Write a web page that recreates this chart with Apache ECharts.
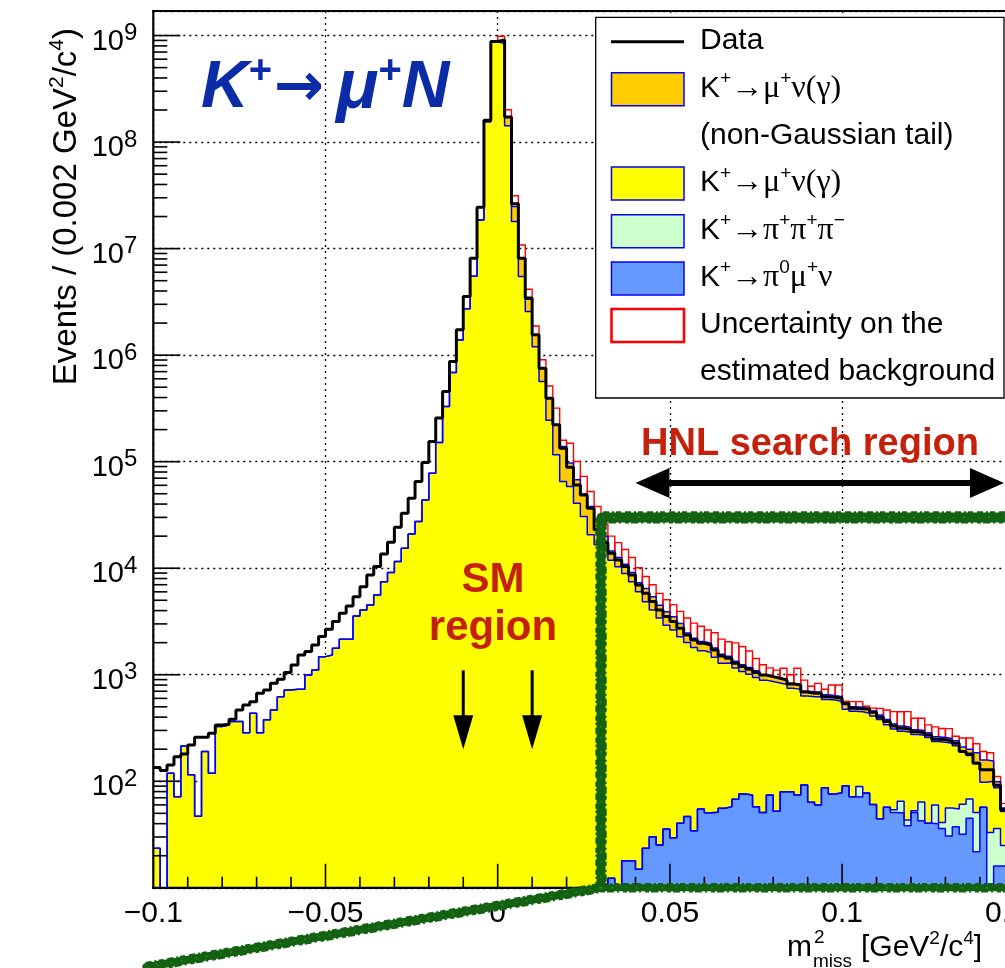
<!DOCTYPE html>
<html>
<head>
<meta charset="utf-8">
<script src="https://cdn.jsdelivr.net/npm/echarts@6.0.0/dist/echarts.min.js"></script>
<style>
html,body{margin:0;padding:0;background:#ffffff;}
#chart{width:1005px;height:968px;}
</style>
</head>
<body>
<div id="chart"></div>
<script>
// ---------- binning (categories): 0.002-wide bins in m2_miss starting at -0.1
const binStart = -0.1;
const binWidth = 0.002;

// ---------- series values, one entry per bin (events / 0.002 GeV^2/c^4)
const dataVals = [
 135,126,142,170,180,219,259,259,282,338,
 343,382,467,520,559,670,720,832,907,1047,
 1237,1535,1650,1905,2280,2675,3155,3780,4430,5410,
 6715,8650,10350,13600,17500,24300,32800,45400,65000,98100,
 1.55e5,2.57e5,4.56e5,8.7e5,1.73e6,3.55e6,8.1e6,2.45e7,1.6e8,8.8e8,
 9.1e8,1.72e8,2.63e7,8.1e6,3.43e6,1.55e6,7.55e5,3.94e5,2.22e5,1.34e5,
 88700,60500,48700,36600,22900,17300,13830,11970,10350,8650,
 6970,5820,4860,4055,3513,3155,2730,2364,2122,1976,
 1905,1710,1502,1430,1283,1192,1127,1047,995,960,
 927,894,820,802,690,670,670,622,615,601,
 540,484,480,477,444,399,363,331,314,307,
 292,286,272,248,246,238,227,190,180,148,
 128,128,92,54];

// K+ -> mu+ nu(gamma), Gaussian core (yellow)
const muNuVals = [
 23.5,0,119,71.6,214,115,47,190,119,326,
 338,363,363,286,435,286,377,467,622,719,
 730,731,995,1109,1479,1535,1774,2155,2155,3565,
 4055,4520,5610,7480,9100,11530,15400,21000,27400,43700,
 78000,1.51e5,3.29e5,6.87e5,1.39e6,2.72e6,5.5e6,1.86e7,1.55e8,8.75e8,
 8.4e8,1.42e8,1.8e7,5.47e6,2.57e6,1.2e6,5.65e5,2.45e5,1.16e5,6.5e4,
 5.84e4,4.08e4,3.05e4,2.06e4,1.66e4,1.5e4,11888,10300,8882,7432,
 5985,4826,4020,3375,2884,2600,2230,1963,1766,1625,
 1569,1409,1224,1232,1092,994,936,882,839,791,
 783,730,665,656,538,557,560,498,504,482,
 384,383,360,358,350,335,283,256,230,245,
 222,206,217,176,191,171,160,127,107,99,
 41,67,51,27];

// K+ -> mu+ nu(gamma), non-Gaussian tail (orange)
const muNuTailVals = [
 0,0,0,0,0,0,0,0,0,0,
 0,0,0,0,0,0,0,0,0,0,
 0,0,0,0,0,0,0,0,0,0,
 0,0,0,0,0,0,0,0,0,0,
 0,0,0,0,0,0,0,0,0,0,
 7e7,2.9e7,6.8e6,2.68e6,7.8e5,3.5e5,1.9e5,1.49e5,1.06e5,7.4e4,
 3.86e4,2.67e4,1.93e4,1.73e4,1.18e4,5000,2600,2300,2000,1650,
 1300,1600,1350,1100,980,870,760,450,400,370,
 360,320,280,200,180,170,160,150,100,95,
 90,90,85,80,70,70,70,65,60,60,
 50,45,45,45,45,40,40,35,35,32,
 30,30,28,26,26,25,25,22,25,35,
 60,55,12,4];

// K+ -> pi+ pi+ pi- (light green)
const pi3Vals = [
 0,0,0,0,0,0,0,0,0,0,
 0,0,0,0,0,0,0,0,0,0,
 0,0,0,0,0,0,0,0,0,0,
 0,0,0,0,0,0,0,0,0,0,
 0,0,0,0,0,0,0,0,0,0,
 0,0,0,0,0,0,0,0,0,0,
 0,0,0,0,0,0,0,0,0,0,
 0,0,0,0,0,0,0,0,0,0,
 0,0,0,0,0,0,0,0,0,0,
 0,0,0,0,0,0,0,0,0,0,
 0,0,18.5,0,0,0,0,3,14.5,5,
 2,21.4,0,20,5,25.4,17.5,29,23,29.2,
 0,24,20,9];

// K+ -> pi0 mu+ nu (blue)
const pi0MuNuVals = [
 0,0,0,0,0,0,0,0,0,0,
 0,0,0,0,0,0,0,0,0,0,
 0,0,0,0,0,0,0,0,0,0,
 0,0,0,0,0,0,0,0,0,0,
 0,0,0,0,0,0,0,0,0,0,
 0,0,0,0,0,0,0,0,0,0,
 0,0,0,0,0,0,12.3,0,17.9,17.9,
 14.9,23.5,30.2,25.2,35.6,29.5,40.3,46.6,34.4,55,
 50.7,51.3,55.7,57.8,67.8,76,74.5,57.8,51,74.5,
 52.3,79.8,79.8,74.5,92.3,63.5,60,87,76,78,
 91,71.6,71,77.5,60.5,44.6,57,51,50.5,38.2,
 51,42.6,40.4,40,36,30.6,37.5,31.8,45,21.8,
 57,9,16,16];

// upper uncertainty on the estimated background (red boxes)
const errUpVals = [
 0,0,0,0,0,0,0,0,0,0,
 0,0,0,0,0,0,0,0,0,0,
 0,0,0,0,0,0,0,0,0,0,
 0,0,0,0,0,0,0,0,0,0,
 0,0,0,0,0,0,0,0,0,0,
 7.4e7,3e7,6.5e6,2.65e6,8e5,3.3e5,1.5e5,1.2e5,9.6e4,2e4,
 5.2e4,3.3e4,2.3e4,1.45e4,9500,6000,5500,4800,4100,3500,
 2800,1900,1600,1300,1150,1050,900,950,850,800,
 650,700,600,550,650,600,500,330,250,200,
 180,250,170,340,190,90,140,80,160,180,
 40,60,65,25,30,64,87,106,120,130,
 85,90,53,62,55,60,25,45,55,40,
 32,30,12,6];

// ---------- axes / ticks
const X_MIN = -0.1, X_MAX = 0.1473, X_INTERVAL = 0.05, X_MINOR = 0.01;
const xTickLabels = [-0.1, -0.05, 0, 0.05, 0.1, 0.15];
const Y_MIN = 10, Y_MAX = 1.7e9;
const yDecades = [1e1,1e2,1e3,1e4,1e5,1e6,1e7,1e8,1e9];
const yMinorMult = [2,3,4,5,6,7,8,9];

// ---------- annotation anchors (data units)
const hnlRegion = [0.04, 0.147];    // double arrow ends
const smArrowsX = [-0.01, 0.01];
const boxCornerX = 0.03, boxTopY = 3e4;

const FONT = "'Liberation Sans', Arial, Helvetica, sans-serif";
const SERIF = "'Liberation Serif', 'DejaVu Serif', 'Times New Roman', serif";
const BLUE_LINE = '#0000ff';
const GREEN = '#126212';

const N = dataVals.length;
const edges = [];
for (let i = 0; i <= N; i++) edges.push(+(binStart + i * binWidth).toFixed(4));

// stacked tops (THStack order: pi0mununu, pi3, munu, tail)
const pi0Top = pi0MuNuVals.slice();
const pi3Top = pi0Top.map((v, i) => v + pi3Vals[i]);
const muNuTop = pi3Top.map((v, i) => v + muNuVals[i]);
const totalTop = muNuTop.map((v, i) => v + muNuTailVals[i]);

const FLOOR = 1; // below the axis minimum, used only where a bin is empty
function stepData(vals) {
  const d = vals.map((v, i) => [edges[i], v > 0 ? v : FLOOR]);
  d.push([edges[N], vals[N - 1] > 0 ? vals[N - 1] : FLOOR]);
  return d;
}
function hist(name, vals, fill, stroke, width) {
  const s = {
    type: 'line', name: name, data: stepData(vals), step: 'end',
    symbol: 'none', showSymbol: false, clip: true, animation: false,
    lineStyle: { color: stroke, width: width }, silent: true
  };
  if (fill) s.areaStyle = { color: fill, opacity: 1, origin: 'start' };
  return s;
}

// red uncertainty boxes
const errItems = [];
for (let i = 0; i < N; i++) {
  if (muNuTailVals[i] > 0 || errUpVals[i] > 0) errItems.push([edges[i], totalTop[i], i]);
}
function renderErr(params, api) {
  const i = api.value(2);
  const lo = muNuTop[i], hi = totalTop[i] + errUpVals[i];
  const a = api.coord([edges[i], hi]);
  const b = api.coord([edges[i + 1], lo]);
  return { type: 'rect', shape: { x: a[0], y: a[1], width: b[0] - a[0], height: b[1] - a[1] },
           style: { fill: 'none', stroke: '#ff0000', lineWidth: 1.4 } };
}

// ticks + frame lines (drawn above the filled histograms, like ROOT's RedrawAxis)
const tickItems = [];
yDecades.forEach(d => {
  if (d > Y_MIN && d < Y_MAX) tickItems.push([X_MIN, d, 0]);
  yMinorMult.forEach(m => { const v = m * d; if (v < Y_MAX) tickItems.push([X_MIN, v, 1]); });
});
for (let k = 1; k <= 30; k++) {
  const v = +(X_MIN + k * X_MINOR).toFixed(3);
  if (v > X_MAX) break;
  const major = Math.abs(v / X_INTERVAL - Math.round(v / X_INTERVAL)) < 1e-6;
  tickItems.push([v, Y_MIN, major ? 2 : 3]);
}
tickItems.push([X_MIN, Y_MIN, 4]);
function renderTick(params, api) {
  const x = api.value(0), y = api.value(1), kind = api.value(2);
  const p = api.coord([x, y]);
  const st = { stroke: '#000', lineWidth: 1.6 };
  if (kind === 0) return { type: 'line', shape: { x1: p[0], y1: p[1], x2: p[0] + 27, y2: p[1] }, style: st };
  if (kind === 1) return { type: 'line', shape: { x1: p[0], y1: p[1], x2: p[0] + 14, y2: p[1] }, style: st };
  if (kind === 2) return { type: 'line', shape: { x1: p[0], y1: p[1], x2: p[0], y2: p[1] - 24 }, style: st };
  if (kind === 3) return { type: 'line', shape: { x1: p[0], y1: p[1], x2: p[0], y2: p[1] - 11 }, style: st };
  const top = api.coord([X_MIN, Y_MAX]);
  const topR = api.coord([X_MAX, Y_MAX]);
  const right = api.coord([X_MAX, Y_MIN]);
  return { type: 'group', children: [
    { type: 'line', shape: { x1: p[0], y1: p[1] + 1, x2: top[0], y2: top[1] - 1 }, style: { stroke: '#000', lineWidth: 2.2 } },
    { type: 'line', shape: { x1: p[0] - 1, y1: p[1], x2: right[0] + 5, y2: right[1] }, style: { stroke: '#000', lineWidth: 2.2 } },
    { type: 'line', shape: { x1: top[0] - 1, y1: top[1], x2: topR[0] + 5, y2: topR[1] }, style: { stroke: '#000', lineWidth: 2 } }
  ] };
}

const chart = echarts.init(document.getElementById('chart'), null, { renderer: 'canvas' });
const dotted = { color: '#000', type: [2, 4], width: 1.3 };
const option = {
  animation: false,
  backgroundColor: '#ffffff',
  grid: { left: 153.3, top: 11, right: 0, height: 876.8, show: false },
  xAxis: {
    type: 'value', min: X_MIN, max: X_MAX, interval: X_INTERVAL,
    axisLine: { show: false }, axisTick: { show: false },
    splitLine: { show: true, showMaxLine: false, lineStyle: dotted },
    axisLabel: {
      margin: 11, color: '#000', fontSize: 30, fontFamily: FONT, showMaxLabel: false,
      formatter: v => {
        const k = v / X_INTERVAL;
        if (Math.abs(k - Math.round(k)) > 1e-6) return '';
        return String(+v.toFixed(3)).replace('-', '\u2212');
      }
    }
  },
  yAxis: {
    type: 'log', logBase: 10, min: Y_MIN, max: Y_MAX, splitNumber: 10,
    axisLine: { show: false }, axisTick: { show: false },
    splitLine: { show: true, lineStyle: dotted },
    axisLabel: {
      margin: 16, color: '#000', padding: [12, 0, 0, 0],
      formatter: v => {
        const e = Math.round(Math.log10(v));
        if (e < 2 || Math.abs(v - Math.pow(10, e)) > 1e-6 * v) return '';
        return '{b|10}{s|' + e + '}';
      },
      rich: {
        b: { fontSize: 29, fontFamily: FONT, color: '#000', lineHeight: 40 },
        s: { fontSize: 24, fontFamily: FONT, color: '#000', lineHeight: 24, verticalAlign: 'top' }
      }
    }
  },
  series: [
    hist('tail', totalTop, '#FFCC00', BLUE_LINE, 1.5),
    hist('munu', muNuTop, '#FFFF00', BLUE_LINE, 1.5),
    hist('pi3', pi3Top, '#CCFFCC', BLUE_LINE, 1.5),
    hist('pi0munu', pi0Top, '#6699FF', BLUE_LINE, 1.5),
    { type: 'custom', name: 'unc', renderItem: renderErr, data: errItems, silent: true, animation: false },
    hist('data', dataVals, null, '#000000', 3),
    { type: 'custom', name: 'ticks', renderItem: renderTick, data: tickItems, silent: true, animation: false, z: 5 }
  ]
};
chart.setOption(option);

// ---------------- annotations ----------------
const px = (x, y) => chart.convertToPixel({ gridIndex: 0 }, [x, y]);
const H = 968, W = 1005;
const G = [];

// tick label beyond the visible axis end (only "0." of it shows, as in the original)
{
  const p0 = px(0, Y_MIN), p1 = px(0.05, Y_MIN);
  const last = xTickLabels[xTickLabels.length - 1];
  const xl = p0[0] + (p1[0] - p0[0]) * (last / 0.05);
  G.push({ type: 'text', z: 95, x: xl, y: p0[1] + 11, style: { text: String(last), fontSize: 30, fontFamily: FONT, fill: '#000', align: 'center', verticalAlign: 'top' } });
}

function roughLine(x1, y1, x2, y2, w) {
  const dx = x2 - x1, dy = y2 - y1, L = Math.hypot(dx, dy) || 1;
  const nx = -dy / L, ny = dx / L;
  const out = [];
  out.push({ type: 'line', z: 100, shape: { x1, y1, x2, y2 }, style: { stroke: GREEN, lineWidth: w, lineCap: 'round' } });
  [[w / 2, [4, 2, 7, 3, 2, 4]], [-w / 2, [6, 3, 2, 2, 5, 4]]].forEach(([o, dash]) => {
    out.push({ type: 'line', z: 101, shape: { x1: x1 + nx * o, y1: y1 + ny * o, x2: x2 + nx * o, y2: y2 + ny * o },
      style: { stroke: GREEN, lineWidth: 2.4, lineDash: dash } });
  });
  out.push({ type: 'line', z: 102, shape: { x1, y1, x2, y2 }, style: { stroke: '#4a8f3a', lineWidth: 1.2, lineDash: [1, 9, 2, 13], opacity: 0.8 } });
  return out;
}
const cB = px(boxCornerX, Y_MIN), cT = px(boxCornerX, boxTopY);
const diagStart = [px(-0.102, Y_MIN)[0], H - 1];
G.push(...roughLine(diagStart[0], diagStart[1], cB[0], cB[1], 8));
G.push(...roughLine(cB[0], cB[1], cT[0], cT[1], 9));
G.push(...roughLine(cT[0] + 2, cT[1], W + 20, cT[1], 10));
G.push(...roughLine(cB[0], cB[1], W + 20, cB[1], 7));

// SM region arrows
smArrowsX.forEach(xv => {
  const a = px(xv, 1100), b = px(xv, 200);
  G.push({ type: 'line', z: 90, shape: { x1: a[0], y1: a[1], x2: b[0], y2: b[1] - 30 }, style: { stroke: '#000', lineWidth: 3 } });
  G.push({ type: 'polygon', z: 90, shape: { points: [[b[0] - 10, b[1] - 34], [b[0] + 10, b[1] - 34], [b[0], b[1]]] }, style: { fill: '#000' } });
});
// HNL double arrow
{
  const l = px(hnlRegion[0], 6.3e4), r = px(hnlRegion[1], 6.3e4);
  G.push({ type: 'line', z: 90, shape: { x1: l[0] + 30, y1: l[1], x2: r[0] - 30, y2: r[1] }, style: { stroke: '#000', lineWidth: 6 } });
  G.push({ type: 'polygon', z: 90, shape: { points: [[l[0], l[1]], [l[0] + 34, l[1] - 15], [l[0] + 34, l[1] + 15]] }, style: { fill: '#000' } });
  G.push({ type: 'polygon', z: 90, shape: { points: [[r[0], r[1]], [r[0] - 34, r[1] - 15], [r[0] - 34, r[1] + 15]] }, style: { fill: '#000' } });
}
// texts
const RED_TXT = '#C4200C';
G.push({ type: 'text', z: 95, x: 493, y: 580, style: { text: 'SM', fontSize: 42, fontWeight: 'bold', fontFamily: FONT, fill: RED_TXT, align: 'center', verticalAlign: 'middle' } });
G.push({ type: 'text', z: 95, x: 493, y: 628, style: { text: 'region', fontSize: 42, fontWeight: 'bold', fontFamily: FONT, fill: RED_TXT, align: 'center', verticalAlign: 'middle' } });
G.push({ type: 'text', z: 95, x: 810, y: 445, style: { text: 'HNL search region', fontSize: 38, fontWeight: 'bold', fontFamily: FONT, fill: RED_TXT, align: 'center', verticalAlign: 'middle' } });

// title K+ -> mu+ N
G.push({ type: 'text', z: 95, x: 201, y: 89, style: {
  text: '{k|K}{s|+}{r|\u2192}{m|\u03bc}{s|+}{k|N}', align: 'left', verticalAlign: 'middle',
  rich: {
    k: { fontSize: 66, fontWeight: 'bold', fontStyle: 'italic', fontFamily: FONT, fill: '#0B2CA6', lineHeight: 74 },
    m: { fontSize: 70, fontWeight: 'bold', fontStyle: 'italic', fontFamily: FONT, fill: '#0B2CA6', lineHeight: 74, padding: [0, 0, 0, 8] },
    s: { fontSize: 40, fontWeight: 'bold', fontFamily: FONT, fill: '#0B2CA6', lineHeight: 40, verticalAlign: 'top' },
    r: { fontSize: 60, fontWeight: 'bold', fontFamily: "'DejaVu Sans', sans-serif", fill: '#0B2CA6', lineHeight: 74, padding: [0, 4, 0, 2] }
  } } });

// legend
const LX = 595.7, LY = 17.3, LW = 408.3, LH = 380.7;
G.push({ type: 'rect', z: 96, shape: { x: LX, y: LY, width: LW, height: LH }, style: { fill: '#fff', stroke: '#000', lineWidth: 1.3 } });
G.push({ type: 'line', z: 97, shape: { x1: 611, y1: 41.7, x2: 684, y2: 41.7 }, style: { stroke: '#000', lineWidth: 3 } });
[[72.7, '#FFCC00', BLUE_LINE, 1.5], [167, '#FFFF00', BLUE_LINE, 1.5], [214.7, '#CCFFCC', BLUE_LINE, 1.5],
 [262, '#6699FF', BLUE_LINE, 1.5], [309, '#FFFFFF', '#FF0000', 2.6]].forEach(([y, f, s, w]) => {
  G.push({ type: 'rect', z: 97, shape: { x: 611.5, y: y, width: 72.5, height: 33 }, style: { fill: f, stroke: s, lineWidth: w } });
});
const legRich = {
  a: { fontSize: 30, fontFamily: FONT, fill: '#000', lineHeight: 38 },
  g: { fontSize: 32, fontFamily: SERIF, fill: '#000', lineHeight: 38 },
  p: { fontSize: 19, fontFamily: FONT, fill: '#000', lineHeight: 19, verticalAlign: 'top' }
};
const legTexts = [
  [41, '{a|Data}'],
  [88.6, '{a|K}{p|+}{g|\u2192\u03bc}{p|+}{g|\u03bd(\u03b3)}'],
  [135.3, '{a|(non-Gaussian tail)}'],
  [183, '{a|K}{p|+}{g|\u2192\u03bc}{p|+}{g|\u03bd(\u03b3)}'],
  [230.3, '{a|K}{p|+}{g|\u2192\u03c0}{p|+}{g|\u03c0}{p|+}{g|\u03c0}{p|\u2212}'],
  [277.6, '{a|K}{p|+}{g|\u2192\u03c0}{p|0}{g|\u03bc}{p|+}{g|\u03bd}'],
  [324.6, '{a|Uncertainty on the}'],
  [372, '{a|estimated background}']
];
legTexts.forEach(([y, t]) => G.push({ type: 'text', z: 98, x: 700, y: y, style: { text: t, rich: legRich, align: 'left', verticalAlign: 'middle' } }));

// axis titles
G.push({ type: 'text', z: 95, x: 67, y: 28, rotation: Math.PI / 2, style: {
  text: '{n|Events / (0.002 GeV}{s|2}{n|/c}{s|4}{n|)}', align: 'right', verticalAlign: 'middle',
  rich: { n: { fontSize: 33, fontFamily: FONT, fill: '#000', lineHeight: 40 },
          s: { fontSize: 21, fontFamily: FONT, fill: '#000', lineHeight: 21, verticalAlign: 'top' } } } });
G.push({ type: 'text', z: 95, x: 787, y: 948, style: { text: 'm', fontSize: 30, fontFamily: FONT, fill: '#000', align: 'left', verticalAlign: 'middle' } });
G.push({ type: 'text', z: 95, x: 814, y: 938, style: { text: '2', fontSize: 19, fontFamily: FONT, fill: '#000', align: 'left', verticalAlign: 'middle' } });
G.push({ type: 'text', z: 95, x: 813, y: 962, style: { text: 'miss', fontSize: 19, fontFamily: FONT, fill: '#000', align: 'left', verticalAlign: 'middle' } });
G.push({ type: 'text', z: 95, x: 861, y: 948, style: {
  text: '{n|[GeV}{s|2}{n|/c}{s|4}{n|]}', align: 'left', verticalAlign: 'middle',
  rich: { n: { fontSize: 30, fontFamily: FONT, fill: '#000', lineHeight: 38 },
          s: { fontSize: 19, fontFamily: FONT, fill: '#000', lineHeight: 19, verticalAlign: 'top' } } } });

chart.setOption({ graphic: G });
</script>
</body>
</html>
